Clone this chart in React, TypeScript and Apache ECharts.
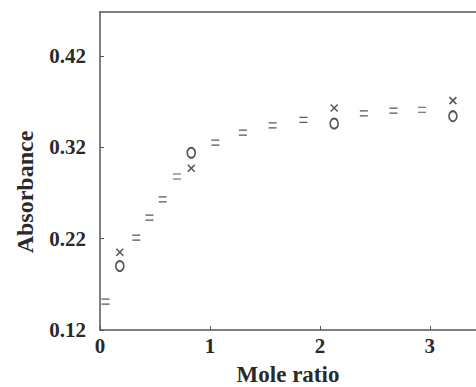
import React, { useEffect, useRef } from "react";
import * as echarts from "echarts";

// "=" markers (main series)
const eqX = [0.05, 0.33, 0.45, 0.57, 0.70, 1.05, 1.30, 1.57, 1.85, 2.40, 2.67, 2.93];
const eqY = [0.151, 0.221, 0.243, 0.263, 0.288, 0.325, 0.336, 0.344, 0.350, 0.357, 0.360, 0.361];
// "x" markers
const crossX = [0.18, 0.83, 2.13, 3.21];
const crossY = [0.205, 0.297, 0.363, 0.371];
// "o" markers
const circX = [0.18, 0.83, 2.13, 3.21];
const circY = [0.190, 0.314, 0.346, 0.354];

const xTicks = [0, 1, 2, 3];
const yTicks = [0.12, 0.22, 0.32, 0.42];

const FONT = "Liberation Serif";
const INK = "#2a2a2a";

export default function App() {
  const ref = useRef<HTMLDivElement>(null);
  useEffect(() => {
    if (!ref.current) return;
    const chart = echarts.init(ref.current, null, { renderer: "svg" });
    const pts = (xs: number[], ys: number[]) => xs.map((x, i) => [x, ys[i]]);
    chart.setOption({
      animation: false,
      grid: { left: 100, right: 0, top: 12, bottom: 57, outerBoundsMode: "none", containLabel: false },
      xAxis: [
        {
          type: "value",
          min: 0,
          max: 3.42,
          name: "Mole ratio",
          nameLocation: "middle",
          nameGap: 33,
          nameTextStyle: { fontFamily: FONT, fontSize: 23, fontWeight: "bold", color: INK },
          axisLine: { show: true, lineStyle: { color: "#555", width: 1.5 } },
          axisTick: { show: true, inside: true, length: 4, customValues: xTicks, lineStyle: { color: "#555" } },
          axisLabel: {
            customValues: xTicks,
            margin: 5,
            fontFamily: FONT,
            fontSize: 21,
            fontWeight: "bold",
            color: INK,
          },
          splitLine: { show: false },
        },
        {
          type: "value",
          position: "top",
          min: 0,
          max: 3.42,
          axisLine: { show: true, lineStyle: { color: "#555", width: 1.5 } },
          axisTick: { show: false },
          axisLabel: { show: false },
          splitLine: { show: false },
        },
      ],
      yAxis: {
        type: "value",
        min: 0.12,
        max: 0.468,
        axisLine: { show: true, lineStyle: { color: "#555", width: 1.5 } },
        axisTick: { show: true, inside: true, length: 4, customValues: yTicks, lineStyle: { color: "#555" } },
        axisLabel: {
          customValues: yTicks,
          margin: 14,
          fontFamily: FONT,
          fontSize: 21,
          fontWeight: "bold",
          color: INK,
          formatter: (v: number) => v.toFixed(2),
        },
        splitLine: { show: false },
      },
      graphic: [
        {
          type: "text",
          x: 25,
          y: 192,
          rotation: Math.PI / 2,
          style: {
            text: "Absorbance",
            font: `bold 24px '${FONT}'`,
            fill: INK,
            align: "center",
            verticalAlign: "middle",
          },
        },
      ],
      series: [
        {
          type: "scatter",
          data: pts(eqX, eqY),
          symbol: "path://M0,0H10M0,5H10",
          symbolSize: [8, 5],
          itemStyle: { color: "none", borderColor: INK, borderWidth: 1.5 },
        },
        {
          type: "scatter",
          data: pts(crossX, crossY),
          symbol: "path://M0,0L10,10M10,0L0,10",
          symbolSize: [7, 7],
          itemStyle: { color: "none", borderColor: INK, borderWidth: 1.5 },
        },
        {
          type: "scatter",
          data: pts(circX, circY),
          symbol: "circle",
          symbolSize: [8, 10],
          itemStyle: { color: "#fff", borderColor: INK, borderWidth: 1.8 },
        },
      ],
    });
    return () => chart.dispose();
  }, []);
  return (
    <div
      ref={ref}
      style={{ position: "absolute", left: 0, top: 0, width: 476, height: 387 }}
    />
  );
}
